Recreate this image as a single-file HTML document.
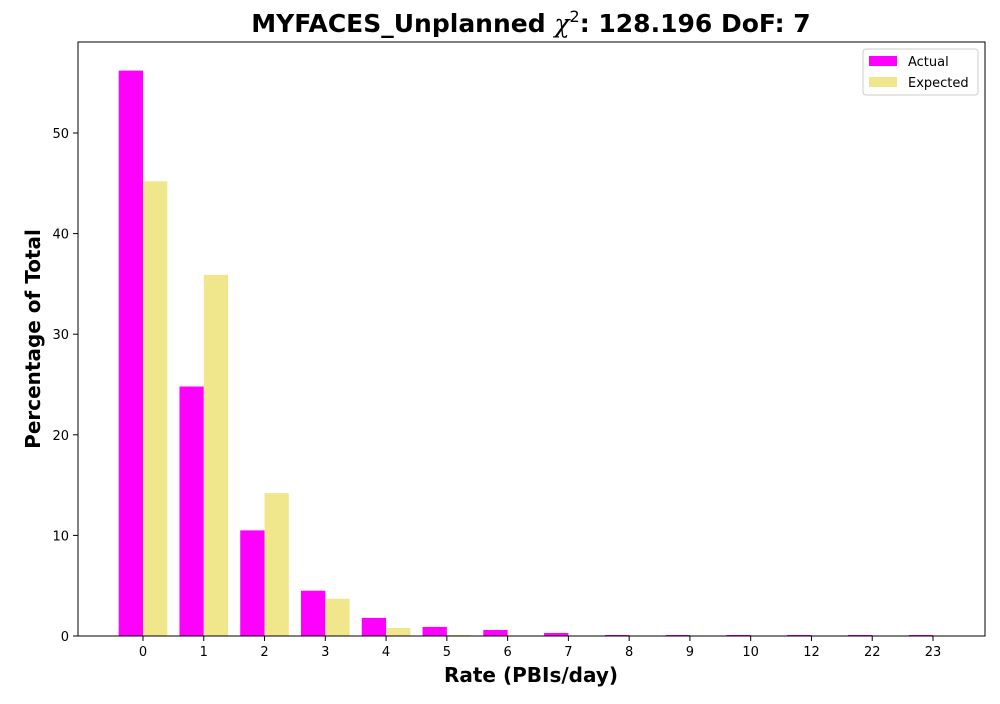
<!DOCTYPE html>
<html><head><meta charset="utf-8"><style>
body{margin:0;background:#fff;font-family:"DejaVu Sans","Liberation Sans",sans-serif}
</style></head><body>
<svg id="chart" width="1000" height="700" xmlns="http://www.w3.org/2000/svg" font-family="DejaVu Sans, Liberation Sans, sans-serif">
<rect width="1000" height="700" fill="#fff"/>
<text x="531" y="32" text-anchor="middle" font-size="25" font-weight="bold">MYFACES_Unplanned <tspan font-style="italic" font-weight="normal" font-family="DejaVu Serif, serif">χ</tspan><tspan font-size="16" font-weight="normal" dy="-10">2</tspan><tspan dy="10">: 128.196 DoF: 7</tspan></text>
<g id="bars"></g>
<g id="axes"></g>
<text x="531" y="682" text-anchor="middle" font-size="20" font-weight="bold">Rate (PBIs/day)</text>
<text transform="translate(40,339) rotate(-90)" text-anchor="middle" font-size="20" font-weight="bold">Percentage of Total</text>
<g>
<rect x="863" y="49" width="115" height="46" fill="#fff" stroke="#ccc" rx="3"/>
<rect x="869" y="56" width="28" height="10" fill="#ff00ff"/>
<text x="908" y="66" font-size="13">Actual</text>
<rect x="869" y="77" width="28" height="10" fill="#f0e68c"/>
<text x="908" y="87" font-size="13">Expected</text>
</g>
</svg>
<script>
const categories=["0","1","2","3","4","5","6","7","8","9","10","12","22","23"];
const actual=[56.2,24.8,10.5,4.5,1.8,0.9,0.6,0.3,0.1,0.1,0.1,0.1,0.1,0.1];
const expected=[45.2,35.9,14.2,3.7,0.8,0.1,0.02,0,0,0,0,0,0,0];
const yTicks=[0,10,20,30,40,50];
const NS="http://www.w3.org/2000/svg";
const L=78,R=985,T=42,B=636;
const step=(933-143)/(categories.length-1);
const x=i=>143+i*step;
const y=v=>B-v*(636-133)/50;
const bw=step*0.4;
const bars=document.getElementById('bars'),axes=document.getElementById('axes');
function mk(tag,at,parent){const e=document.createElementNS(NS,tag);for(const k in at)e.setAttribute(k,at[k]);parent.appendChild(e);return e;}
categories.forEach((c,i)=>{
  const a=mk('rect',{x:x(i)-bw,y:y(actual[i]),width:bw,height:B-y(actual[i]),fill:'#ff00ff'},bars);
  
  
  const e=mk('rect',{x:x(i),y:y(expected[i]),width:bw,height:B-y(expected[i]),fill:'#f0e68c'},bars);
  
  
  mk('line',{x1:x(i),x2:x(i),y1:B,y2:B+5,stroke:'#000'},axes);
  const t=mk('text',{x:x(i),y:B+20,'text-anchor':'middle','font-size':13},axes);
  
  
  t.textContent=c;
});
yTicks.forEach(v=>{
  mk('line',{x1:L-5,x2:L,y1:y(v),y2:y(v),stroke:'#000'},axes);
  const t=mk('text',{x:L-9,y:y(v)+5,'text-anchor':'end','font-size':13},axes);
  
  
  t.textContent=v;
});
const f=mk('rect',{x:L,y:T,width:R-L,height:B-T,fill:'none',stroke:'#000','stroke-width':1},axes);


</script>
</body></html>
